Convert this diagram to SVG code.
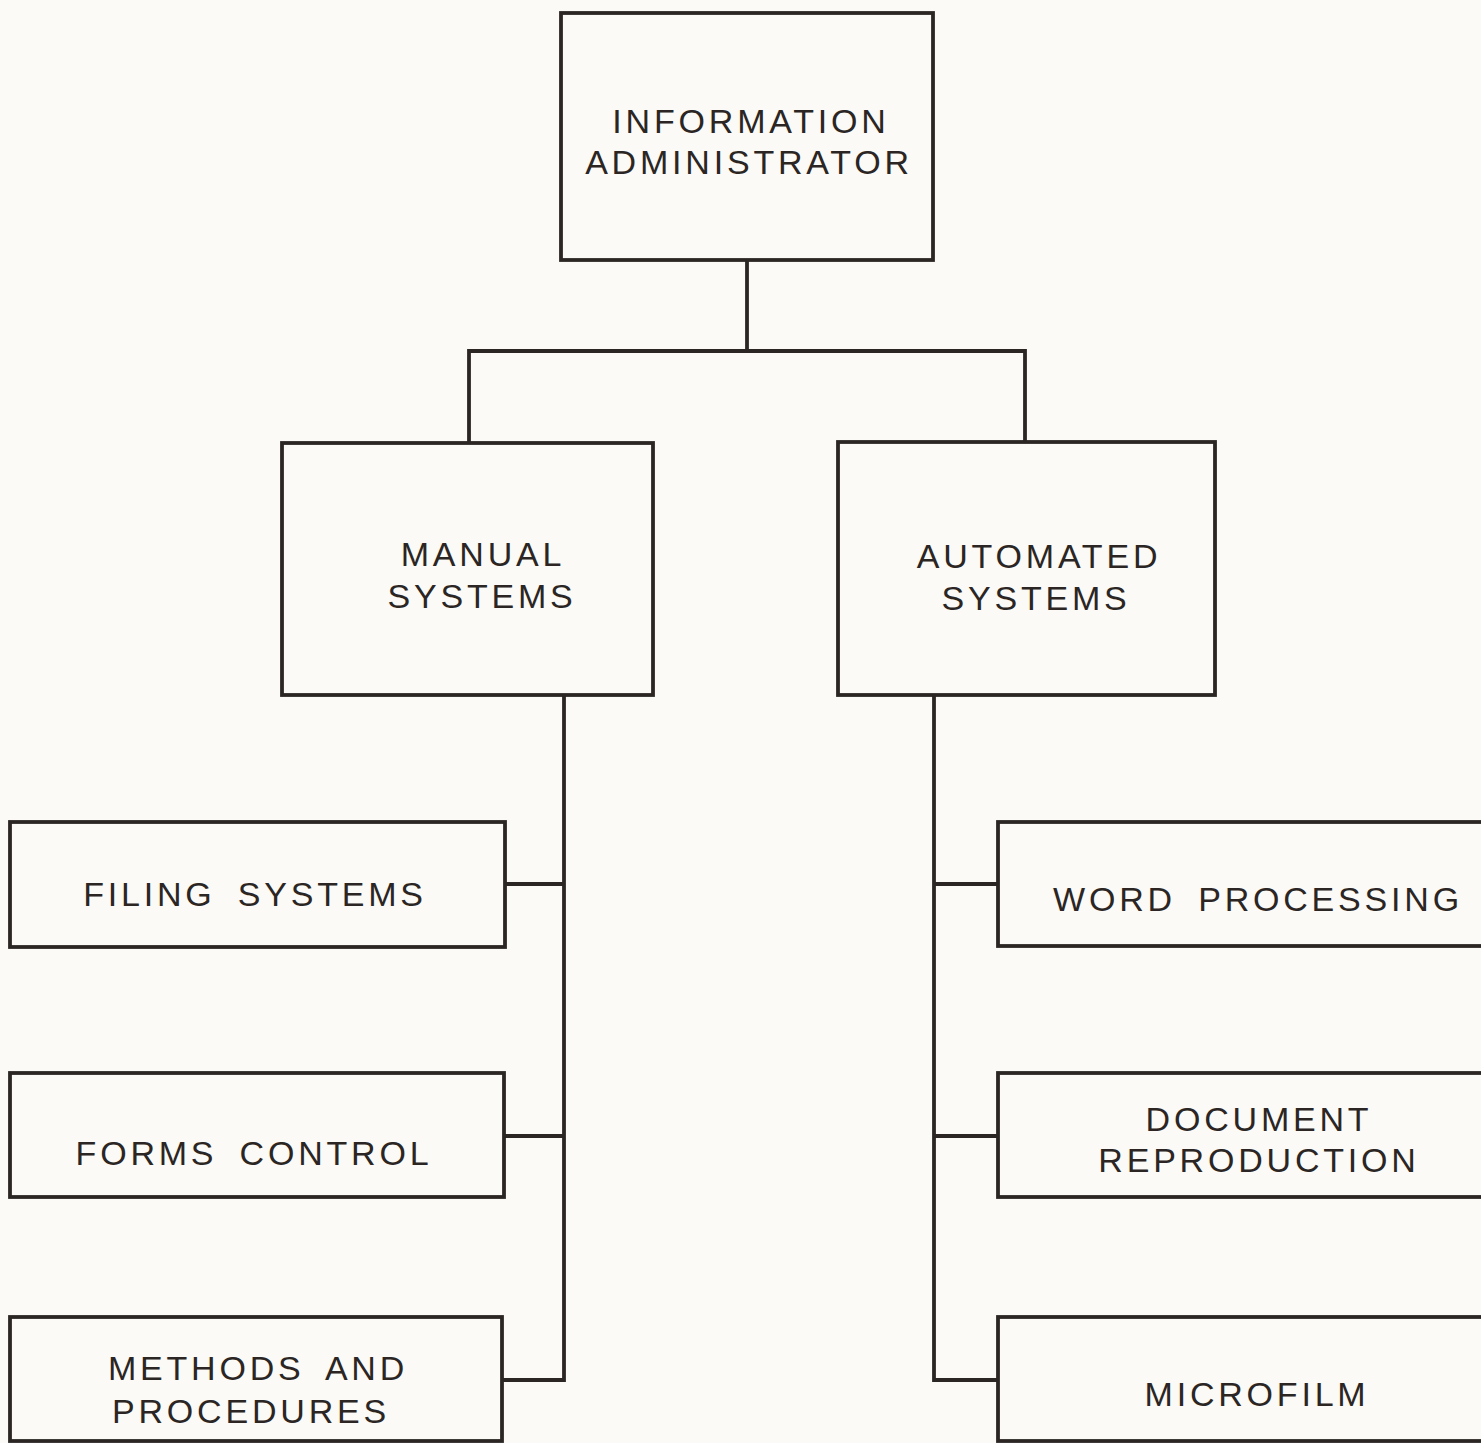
<svg xmlns="http://www.w3.org/2000/svg" width="1481" height="1443" viewBox="0 0 1481 1443">
<style>
.bg{fill:#fbfaf6}
.box{fill:none;stroke:#2b2624;stroke-width:3.8}
.ln{fill:none;stroke:#2b2624;stroke-width:3.8}
text{font-family:"Liberation Sans",Arial,sans-serif;font-size:34px;fill:#2b2624;text-anchor:middle;letter-spacing:3.8px;word-spacing:9px}
</style>
<rect class="bg" x="0" y="0" width="1481" height="1443"/>
<g id="connectors">
<polyline class="ln" points="747,260 747,351"/>
<polyline class="ln" points="469,443 469,351 1025,351 1025,442"/>
<polyline class="ln" points="564,695 564,1380 502,1380"/>
<line class="ln" x1="505" y1="884" x2="564" y2="884"/>
<line class="ln" x1="504" y1="1136" x2="564" y2="1136"/>
<polyline class="ln" points="934,695 934,1380 998,1380"/>
<line class="ln" x1="934" y1="884" x2="998" y2="884"/>
<line class="ln" x1="934" y1="1136" x2="998" y2="1136"/>
</g>
<g id="info-admin">
<rect class="box" x="561" y="13" width="372" height="247"/>
<text x="751" y="133">INFORMATION</text>
<text x="749" y="174">ADMINISTRATOR</text>
</g>
<g id="manual">
<rect class="box" x="282" y="443" width="371" height="252"/>
<text x="483" y="566">MANUAL</text>
<text x="482" y="608">SYSTEMS</text>
</g>
<g id="automated">
<rect class="box" x="838" y="442" width="377" height="253"/>
<text x="1039" y="568">AUTOMATED</text>
<text x="1036" y="610">SYSTEMS</text>
</g>
<g id="filing">
<rect class="box" x="10" y="822" width="495" height="125"/>
<text x="255" y="906">FILING SYSTEMS</text>
</g>
<g id="forms">
<rect class="box" x="10" y="1073" width="494" height="124"/>
<text x="254" y="1165">FORMS CONTROL</text>
</g>
<g id="methods">
<rect class="box" x="10" y="1317" width="492" height="124"/>
<text x="258" y="1380">METHODS AND</text>
<text x="251" y="1423">PROCEDURES</text>
</g>
<g id="word">
<rect class="box" x="998" y="822" width="490" height="124"/>
<text x="1258" y="911">WORD PROCESSING</text>
</g>
<g id="document">
<rect class="box" x="998" y="1073" width="490" height="124"/>
<text x="1259" y="1131">DOCUMENT</text>
<text x="1259" y="1172">REPRODUCTION</text>
</g>
<g id="microfilm">
<rect class="box" x="998" y="1317" width="490" height="124"/>
<text x="1257" y="1406">MICROFILM</text>
</g>
</svg>
